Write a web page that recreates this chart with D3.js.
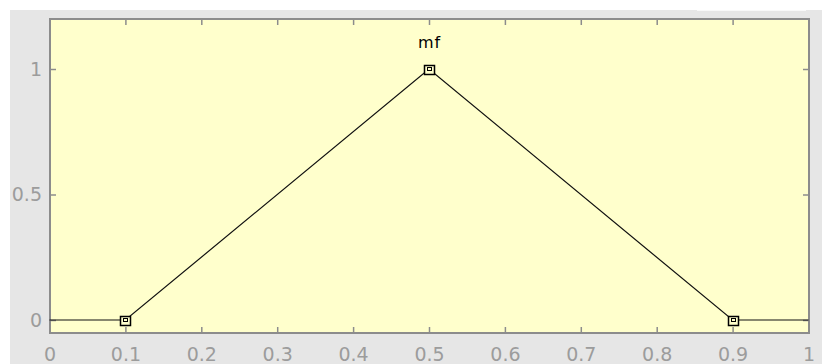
<!DOCTYPE html>
<html><head><meta charset="utf-8">
<script src="https://cdn.jsdelivr.net/npm/d3@7"></script>
<style>body{margin:0;background:#fff;}svg{display:block;}</style>
</head><body>
<svg id="c" width="822" height="364"></svg>
<script>
const xPts = [0, 0.1, 0.5, 0.9, 1];
const yPts = [0, 0, 1, 0, 0];
const markerX = [0.1, 0.5, 0.9];
const markerY = [0, 1, 0];
const mfName = "mf";
const xTicks = [0,0.1,0.2,0.3,0.4,0.5,0.6,0.7,0.8,0.9,1];
const yTicks = [0,0.5,1];

const svg = d3.select("#c");
svg.append("rect").attr("x",10).attr("y",10).attr("width",812).attr("height",354).attr("fill","#e6e6e6");
svg.append("line").attr("x1",697).attr("x2",806).attr("y1",10.5).attr("y2",10.5).attr("stroke","#f8f8f8").attr("stroke-width",1);

const L=50, R=809, T=19, B=333;
const x = d3.scaleLinear().domain([0,1]).range([49.5,808.5]);
const y = d3.scaleLinear().domain([0,1]).range([320,69]);

svg.append("rect").attr("x",L).attr("y",T).attr("width",R-L).attr("height",B-T).attr("fill","#ffffcc");

const axCol = "#8c8c8c";
const fmt = d => d===0?"0":d===1?"1":String(d);
const gB = svg.append("g").attr("transform",`translate(0,${B})`)
  .call(d3.axisBottom(x).tickValues(xTicks).tickFormat(fmt).tickSizeInner(-6).tickSizeOuter(0).tickPadding(15));
const gT = svg.append("g").attr("transform",`translate(0,${T})`)
  .call(d3.axisTop(x).tickValues(xTicks).tickFormat("").tickSizeInner(-6).tickSizeOuter(0));
const gL = svg.append("g").attr("transform",`translate(${L},0)`)
  .call(d3.axisLeft(y).tickValues(yTicks).tickFormat(fmt).tickSizeInner(-6).tickSizeOuter(0).tickPadding(8));
const gR = svg.append("g").attr("transform",`translate(${R},0)`)
  .call(d3.axisRight(y).tickValues(yTicks).tickFormat("").tickSizeInner(-6).tickSizeOuter(0));
[gB,gT,gL,gR].forEach(g=>{
  g.select(".domain").remove();
  g.selectAll("line").attr("stroke",axCol).attr("stroke-width",1.5);
  g.selectAll("text").attr("fill","#9c9c9c").attr("font-family","DejaVu Sans, sans-serif").attr("font-size",19);
});
svg.append("rect").attr("x",L).attr("y",T).attr("width",R-L).attr("height",B-T)
  .attr("fill","none").attr("stroke",axCol).attr("stroke-width",2);

const data = xPts.map((d,i)=>[d,yPts[i]]);
svg.append("path").datum(data)
  .attr("d", d3.line().x(d=>x(d[0])).y(d=>y(d[1])))
  .attr("fill","none").attr("stroke","#111").attr("stroke-width",1.2);

const mk = svg.append("g").selectAll("g").data(markerX.map((d,i)=>[d,markerY[i]])).join("g")
  .attr("transform",d=>`translate(${Math.round(x(d[0]))},${Math.round(y(d[1]))})`);
mk.append("rect").attr("x",-4.5).attr("y",-3.5).attr("width",10).attr("height",9)
  .attr("fill","#ffffcc").attr("stroke","#000").attr("stroke-width",1.5);
mk.append("rect").attr("x",-1.5).attr("y",-1.5).attr("width",4).attr("height",3)
  .attr("fill","none").attr("stroke","#000").attr("stroke-width",1);

svg.append("text").attr("x",x(0.5)+0.5).attr("y",48).attr("text-anchor","middle")
  .attr("font-family","DejaVu Sans, sans-serif").attr("font-size",16).attr("letter-spacing",1)
  .attr("fill","#000").text(mfName);
</script>
</body></html>
